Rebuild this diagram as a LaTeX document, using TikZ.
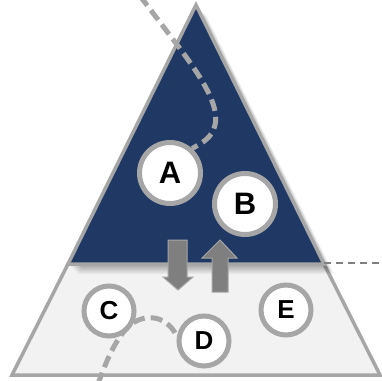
\documentclass[tikz,border=0pt]{standalone}
\usepackage{fontspec}
\setmainfont{Liberation Sans}
\usetikzlibrary{calc}
\definecolor{navy}{HTML}{1F3864}
\definecolor{lightfill}{HTML}{F2F2F2}
\definecolor{edgegray}{HTML}{A6A6A6}
\definecolor{arrowgray}{HTML}{7F7F7F}
\pgfdeclarelayer{bg}
\pgfdeclarelayer{mid}
\pgfsetlayers{bg,mid,main}
\tikzset{
  layer/.style={draw=edgegray, line width=3.5pt, line join=miter},
  bigcirc/.style={circle, draw=edgegray, line width=5pt, fill=white, minimum size=61pt, inner sep=0pt, font=\fontsize{31}{31}\selectfont\bfseries},
  smallcirc/.style={circle, draw=edgegray, line width=5pt, fill=white, minimum size=50pt, inner sep=0pt, font=\fontsize{26}{26}\selectfont\bfseries},
  dashline/.style={draw=edgegray, line width=5pt, dash pattern=on 12pt off 6pt},
  thindash/.style={draw=arrowgray, line width=1.8pt, dash pattern=on 7pt off 5pt},
  blockarrow/.style={fill=arrowgray, draw=edgegray, line width=1pt, line join=miter}
}
\begin{document}
\begin{tikzpicture}[x=1pt,y=-1pt]
\useasboundingbox (0,0) rectangle (382,380);
\begin{pgfonlayer}{bg}
% lower layer
\path[layer, fill=lightfill] (68,264) -- (324,264) -- (380,375) -- (12,375) -- cycle;
% shadow of upper triangle
\foreach \i in {1,...,10}{
  \fill[black, opacity=0.035] ($(196,5)+(\i*1.0,\i*1.0)$) -- ($(324,264)+(\i*1.0,\i*1.0)$) -- ($(68,264)+(\i*1.0,\i*1.0)$) -- cycle;
}
% upper triangle
\path[layer, fill=navy] (196,5) -- (324,264) -- (68,264) -- cycle;
\end{pgfonlayer}
\coordinate (rc) at (324,263);
\coordinate (rend) at (383,263);
\draw[thindash] (rc) -- (rend);
% block arrows
\path[blockarrow] (168,240) -- (187,240) -- (187,277) -- (193,277) -- (178,290) -- (163,277) -- (168,277) -- cycle;
\path[blockarrow] (212,292) -- (228,292) -- (228,258) -- (237,258) -- (220,240) -- (202,258) -- (212,258) -- cycle;
% nodes
\node[bigcirc] (A) at (170,173) {A};
\node[bigcirc] (B) at (245,204) {B};
\node[smallcirc] (C) at (109,311) {C};
\node[smallcirc] (D) at (204,341) {D};
\node[smallcirc] (E) at (286,310) {E};
% dashed connectors (behind circles)
\coordinate (ts) at (140,-4);
\coordinate (bs) at (98,384);
\begin{pgfonlayer}{mid}
\draw[dashline] (ts) -- (175,42) .. controls (200,75) and (220,105) .. (215,125) .. controls (212,138) and (202,143) .. (A.48);
\draw[dashline] (bs) .. controls (106,362) and (114,342) .. (127,328) .. controls (140,314) and (165,312) .. (D.170);
\end{pgfonlayer}
\end{tikzpicture}
\end{document}
